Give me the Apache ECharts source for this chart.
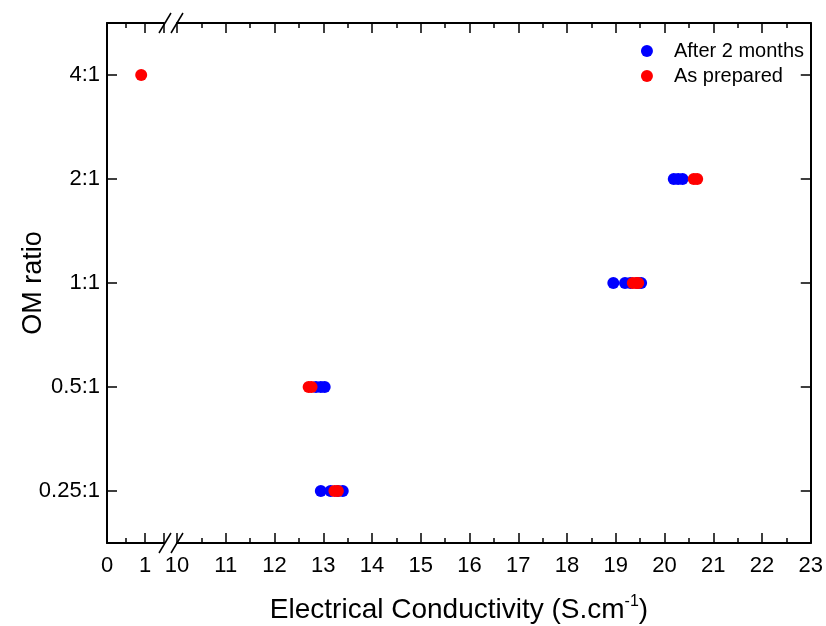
<!DOCTYPE html>
<html>
<head>
<meta charset="utf-8">
<script src="https://cdn.jsdelivr.net/npm/echarts@6/dist/echarts.min.js"></script>
<style>
html,body{margin:0;padding:0;background:#fff;}
#chart{width:826px;height:626px;}
</style>
</head>
<body>
<div id="chart"></div>
<script>
// OM ratio categories, bottom to top
var ratios = ['0.25:1', '0.5:1', '1:1', '2:1', '4:1'];

// [conductivity, ratio]
var after2Months = [
    [20.19, '2:1'], [20.28, '2:1'], [20.37, '2:1'],
    [18.95, '1:1'], [19.19, '1:1'], [19.30, '1:1'], [19.45, '1:1'], [19.52, '1:1'],
    [12.85, '0.5:1'], [12.95, '0.5:1'], [13.03, '0.5:1'],
    [12.95, '0.25:1'], [13.15, '0.25:1'], [13.30, '0.25:1'], [13.40, '0.25:1']
];
var asPreparedLow = [
    [0.9, '4:1']
];
var asPreparedHigh = [
    [20.60, '2:1'], [20.67, '2:1'],
    [19.35, '1:1'], [19.42, '1:1'], [19.46, '1:1'],
    [12.70, '0.5:1'], [12.76, '0.5:1'],
    [13.23, '0.25:1'], [13.30, '0.25:1']
];

var FONT = 'Liberation Sans, Arial, sans-serif';
var BLUE = '#0000ff', RED = '#ff0000';
var axisLineStyle = {color: '#000', width: 2};
var tickStyle = {color: '#000', width: 1.5};

function xAx(grid, pos, min, max, labels) {
    return {
        type: 'value', gridIndex: grid, position: pos,
        min: min, max: max, interval: 1,
        axisLine: {show: true, onZero: false, lineStyle: axisLineStyle},
        axisTick: {show: true, inside: true, length: 10, lineStyle: tickStyle},
        minorTick: {show: true, splitNumber: 2, length: 5, lineStyle: tickStyle},
        axisLabel: {show: labels, color: '#000', fontSize: 22, fontFamily: FONT, margin: 12,
            showMaxLabel: grid === 1},
        splitLine: {show: false}
    };
}
function yAx(grid, pos, labels) {
    return {
        type: 'category', gridIndex: grid, position: pos, data: ratios,
        boundaryGap: true,
        axisLine: {show: true, lineStyle: axisLineStyle},
        axisTick: {show: true, inside: true, alignWithLabel: true, length: 10, lineStyle: tickStyle},
        axisLabel: {show: labels, color: '#000', fontSize: 22, fontFamily: FONT, margin: 7},
        splitLine: {show: false}
    };
}

var chart = echarts.init(document.getElementById('chart'));

var leftY = yAx(0, 'left', true);
leftY.name = 'OM ratio';
leftY.nameLocation = 'middle';
leftY.nameGap = 60;
leftY.nameMoveOverlap = false;
leftY.nameTextStyle = {color: '#000', fontSize: 27, fontFamily: FONT};

function slash(cx, cy) {
    return {type: 'line', shape: {x1: cx - 6, y1: cy + 10, x2: cx + 6, y2: cy - 10},
        style: {stroke: '#000', lineWidth: 1.5}, z: 100};
}
function gapMask(cy) {
    return {type: 'rect', shape: {x: 166, y: cy - 2, width: 10, height: 4},
        style: {fill: '#fff'}, z: 99};
}

chart.setOption({
    animation: false,
    backgroundColor: '#fff',
    grid: [
        {left: 107, top: 23, width: 57, bottom: 83},
        {left: 177, top: 23, right: 14, bottom: 83}
    ],
    xAxis: [
        xAx(0, 'bottom', 0, 1.5, true),
        xAx(0, 'top', 0, 1.5, false),
        xAx(1, 'bottom', 10, 23, true),
        xAx(1, 'top', 10, 23, false)
    ],
    yAxis: [
        leftY,
        yAx(1, 'right', false)
    ],
    legend: {
        right: 17, top: 36, orient: 'vertical', align: 'left', itemGap: 5,
        itemWidth: 12, itemHeight: 12,
        textStyle: {color: '#000', fontSize: 20, lineHeight: 20, fontFamily: FONT, padding: [0, 0, 0, 16]},
        data: [
            {name: 'After 2 months', icon: 'circle'},
            {name: 'As prepared', icon: 'circle'}
        ]
    },
    graphic: [
        gapMask(543), gapMask(23),
        slash(165, 543), slash(177, 543),
        slash(165, 23), slash(177, 23),
        {
            type: 'text', x: 459, y: 594, z: 100,
            style: {
                text: '{a|Electrical Conductivity (S.cm}{s|-1}{a|)}',
                align: 'center',
                rich: {
                    a: {fontSize: 28, fontFamily: FONT, fill: '#000', verticalAlign: 'bottom'},
                    s: {fontSize: 16, fontFamily: FONT, fill: '#000', padding: [0, 0, 14, 0], verticalAlign: 'bottom'}
                }
            }
        }
    ],
    series: [
        {
            name: 'After 2 months', type: 'scatter', xAxisIndex: 2, yAxisIndex: 1,
            symbolSize: 12, itemStyle: {color: BLUE, opacity: 1}, data: after2Months
        },
        {
            name: 'As prepared', type: 'scatter', xAxisIndex: 0, yAxisIndex: 0,
            symbolSize: 12, itemStyle: {color: RED, opacity: 1}, data: asPreparedLow
        },
        {
            name: 'As prepared', type: 'scatter', xAxisIndex: 2, yAxisIndex: 1,
            symbolSize: 12, itemStyle: {color: RED, opacity: 1}, data: asPreparedHigh
        }
    ]
});
</script>
</body>
</html>
